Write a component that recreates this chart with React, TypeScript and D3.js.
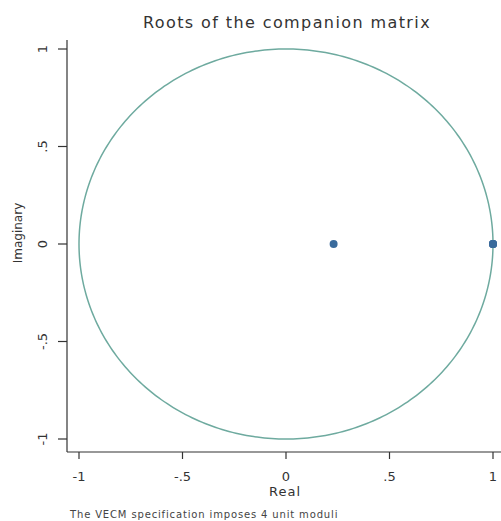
import { useEffect, useRef } from 'react';
import * as d3 from 'd3';

const rootReal = [0.23, 1, 1, 1, 1];
const rootImag = [0, 0, 0, 0, 0];
const xTicks = [-1, -0.5, 0, 0.5, 1];
const yTicks = [-1, -0.5, 0, 0.5, 1];
const fmt = (v: number) => (v === 0 ? '0' : String(v).replace('0.', '.'));

export default function App() {
  const svgRef = useRef<SVGSVGElement>(null);

  useEffect(() => {
    const svg = d3.select(svgRef.current);
    svg.selectAll('*').remove();
    const font = 'Verdana, "DejaVu Sans", sans-serif';

    const x = d3.scaleLinear().domain([-1, 1]).range([79, 493]);
    const y = d3.scaleLinear().domain([-1, 1]).range([439, 49]);

    // unit circle
    const circ = d3.range(0, 361).map(a => [Math.cos((a * Math.PI) / 180), Math.sin((a * Math.PI) / 180)]);
    svg.append('path')
      .attr('d', d3.line().x(d => x(d[0])).y(d => y(d[1]))(circ as [number, number][]))
      .attr('fill', 'none')
      .attr('stroke', '#6eaa9f')
      .attr('stroke-width', 1.5);

    // roots
    svg.selectAll('circle.root')
      .data(rootReal.map((r, i) => [r, rootImag[i]]))
      .join('circle')
      .attr('class', 'root')
      .attr('cx', d => x(d[0]))
      .attr('cy', d => y(d[1]))
      .attr('r', 4)
      .attr('fill', '#3a6b9c');

    // axes
    svg.append('line').attr('x1', 67).attr('x2', 67).attr('y1', 40).attr('y2', 452)
      .attr('stroke', '#333').attr('stroke-width', 1.2);
    svg.append('line').attr('x1', 67).attr('x2', 501).attr('y1', 452).attr('y2', 452)
      .attr('stroke', '#333').attr('stroke-width', 1.2);

    xTicks.forEach(t => {
      svg.append('line').attr('x1', x(t)).attr('x2', x(t)).attr('y1', 452).attr('y2', 459)
        .attr('stroke', '#333').attr('stroke-width', 1.2);
      svg.append('text').attr('x', x(t)).attr('y', 481).attr('text-anchor', 'middle')
        .style('font-family', font).style('font-size', '13px').attr('fill', '#333').text(fmt(t));
    });
    yTicks.forEach(t => {
      svg.append('line').attr('x1', 58).attr('x2', 67).attr('y1', y(t)).attr('y2', y(t))
        .attr('stroke', '#333').attr('stroke-width', 1.2);
      svg.append('text').attr('transform', `translate(47,${y(t)}) rotate(-90)`).attr('text-anchor', 'middle')
        .style('font-family', font).style('font-size', '13px').attr('fill', '#333').text(fmt(t));
    });

    svg.append('text').attr('x', 285).attr('y', 496).attr('text-anchor', 'middle')
      .style('font-family', font).style('font-size', '13px').style('letter-spacing', '1px')
      .attr('fill', '#333').text('Real');
    svg.append('text').attr('transform', 'translate(22,233) rotate(-90)').attr('text-anchor', 'middle')
      .style('font-family', font).style('font-size', '12px').attr('fill', '#333').text('Imaginary');
    svg.append('text').attr('x', 287).attr('y', 28).attr('text-anchor', 'middle')
      .style('font-family', font).style('font-size', '16px').style('letter-spacing', '1.4px')
      .attr('fill', '#333').text('Roots of the companion matrix');
    svg.append('text').attr('x', 70).attr('y', 518)
      .style('font-family', font).style('font-size', '10px').style('letter-spacing', '0.85px')
      .attr('fill', '#444').text('The VECM specification imposes 4 unit moduli');
  }, []);

  return (
    <svg ref={svgRef} width={501} height={521}
      style={{ position: 'absolute', left: 0, top: 0, background: '#fff' }} />
  );
}
